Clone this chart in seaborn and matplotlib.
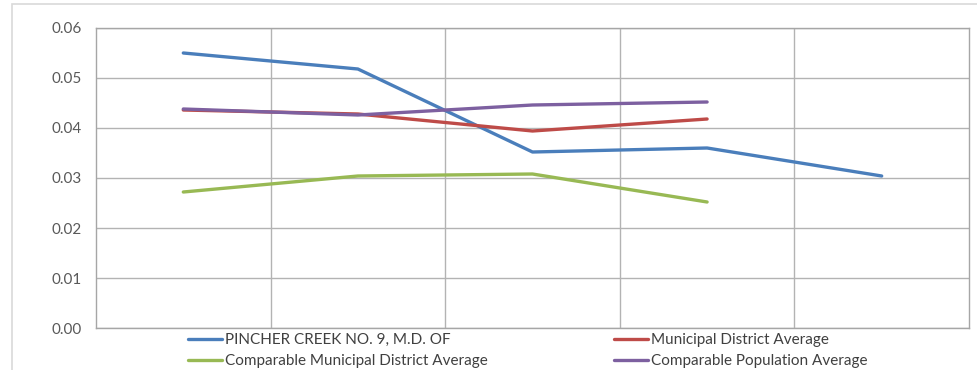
import matplotlib
matplotlib.use("Agg")
import matplotlib.pyplot as plt
import seaborn as sns
import pandas as pd
import numpy as np
from matplotlib.patches import Rectangle
from matplotlib.lines import Line2D

periods = ["P1", "P2", "P3", "P4", "P5"]
pincher = [0.0550, 0.0518, 0.0352, 0.0360, 0.0304]
md_avg = [0.0436, 0.0428, 0.0394, 0.0418, np.nan]
comp_md_avg = [0.0272, 0.0304, 0.0308, 0.0252, np.nan]
comp_pop_avg = [0.0438, 0.0426, 0.0446, 0.0452, np.nan]

series_names = ["PINCHER CREEK NO. 9, M.D. OF", "Municipal District Average",
                "Comparable Municipal District Average", "Comparable Population Average"]
series_values = [pincher, md_avg, comp_md_avg, comp_pop_avg]
colors = ["#4A7EBB", "#BE4B48", "#98B954", "#7D60A0"]
yticks = [0.00, 0.01, 0.02, 0.03, 0.04, 0.05, 0.06]

rows = []
for name, vals in zip(series_names, series_values):
    for i, v in enumerate(vals):
        rows.append({"x": i, "value": v, "series": name})
df = pd.DataFrame(rows).dropna()

sns.set_theme(style="white")
plt.rcParams["font.family"] = ["Lato", "DejaVu Sans"]

fig = plt.figure(figsize=(9.77, 3.70), dpi=100)
ax = fig.add_axes([96/977, 42/370, (969-96)/977, 300/370])

sns.lineplot(data=df, x="x", y="value", hue="series", hue_order=series_names,
             palette=colors, linewidth=2.4, ax=ax, legend=False, sort=False)

ax.set_xlim(-0.5, len(periods) - 0.5)
ax.set_ylim(0, 0.06)
ax.set_yticks(yticks)
ax.set_yticklabels([f"{t:.2f}" for t in yticks], fontsize=11, color="#595959")
ax.set_xticks([])
ax.set_xticks(np.arange(0.5, len(periods) - 0.5, 1), minor=True)
ax.tick_params(axis="x", which="both", length=0, labelbottom=False)
ax.tick_params(axis="y", length=0, pad=10)
ax.grid(True, axis="y", color="#B3B3B3", linewidth=1)
ax.grid(True, axis="x", which="minor", color="#B3B3B3", linewidth=1)
ax.set_xlabel("")
ax.set_ylabel("")
for s in ax.spines.values():
    s.set_color("#A6A6A6")
    s.set_linewidth(1)

# legend
handles = [Line2D([0], [0], color=c, linewidth=2.4) for c in colors]
order = [0, 2, 1, 3]
leg = fig.legend([handles[i] for i in order], [series_names[i] for i in order],
                 ncol=2, loc="upper left", bbox_to_anchor=(188/977, 1 - 333/370),
                 frameon=False, fontsize=11, handlelength=2.2, handletextpad=0.2,
                 columnspacing=8.3, labelspacing=0.45, borderpad=0, borderaxespad=0)
for t in leg.get_texts():
    t.set_color("#404040")

# outer chart border
fig.patches.append(Rectangle((12/977, -0.1), 1.2, 1 - 4/370 + 0.1, transform=fig.transFigure,
                             fill=False, edgecolor="#D9D9D9", linewidth=1.2, zorder=0))

fig.savefig("out.png", dpi=100)
